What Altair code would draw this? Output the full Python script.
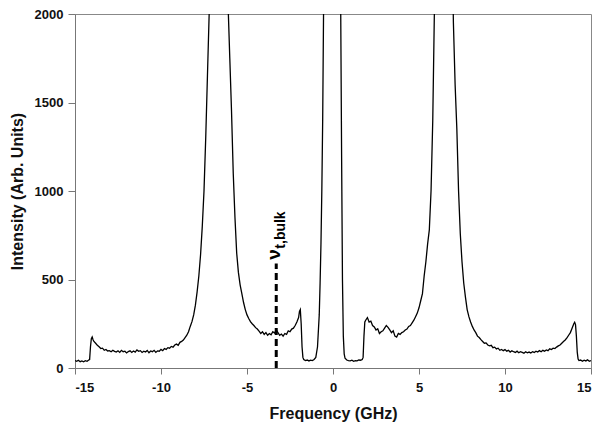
import altair as alt
import pandas as pd

freq = [
    -15.0, -14.9, -14.8, -14.7, -14.6, -14.5, -14.4, -14.3, -14.2, -14.15,
    -14.1, -14.05, -14.0, -13.95, -13.9, -13.8, -13.7, -13.6, -13.5, -13.4,
    -13.3, -13.2, -13.1, -13.0, -12.9, -12.8, -12.7, -12.6, -12.5, -12.4,
    -12.3, -12.2, -12.1, -12.0, -11.9, -11.8, -11.7, -11.6, -11.5, -11.4,
    -11.3, -11.2, -11.1, -11.0, -10.9, -10.8, -10.7, -10.6, -10.5, -10.4,
    -10.3, -10.2, -10.1, -10.0, -9.9, -9.8, -9.7, -9.6, -9.5, -9.4,
    -9.3, -9.2, -9.1, -9.0, -8.9, -8.8, -8.7, -8.6, -8.5, -8.4,
    -8.3, -8.2, -8.1, -8.0, -7.9, -7.8, -7.7, -7.6, -7.5, -7.4,
    -7.3, -7.2, -7.1, -6.9, -6.6, -6.3, -6.1, -6.0, -5.9, -5.8,
    -5.7, -5.6, -5.5, -5.4, -5.3, -5.2, -5.1, -5.0, -4.9, -4.8,
    -4.7, -4.6, -4.5, -4.4, -4.3, -4.2, -4.1, -4.0, -3.9, -3.8,
    -3.7, -3.6, -3.5, -3.4, -3.3, -3.2, -3.1, -3.0, -2.9, -2.8,
    -2.7, -2.6, -2.5, -2.4, -2.3, -2.2, -2.1, -2.0, -1.95, -1.9,
    -1.85, -1.8, -1.75, -1.7, -1.6, -1.5, -1.4, -1.3, -1.2, -1.1,
    -1.0, -0.9, -0.8, -0.75, -0.7, -0.65, -0.6, -0.55, -0.5, 0.0,
    0.4, 0.45, 0.5, 0.55, 0.6, 0.65, 0.7, 0.8, 0.9, 1.0,
    1.1, 1.2, 1.3, 1.4, 1.5, 1.6, 1.7, 1.75, 1.8, 1.85,
    1.9, 2.0, 2.1, 2.2, 2.3, 2.4, 2.5, 2.6, 2.7, 2.8,
    2.9, 3.0, 3.1, 3.2, 3.3, 3.4, 3.5, 3.6, 3.7, 3.8,
    3.9, 4.0, 4.1, 4.2, 4.3, 4.4, 4.5, 4.6, 4.7, 4.8,
    4.9, 5.0, 5.1, 5.2, 5.3, 5.4, 5.5, 5.6, 5.7, 5.8,
    5.9, 6.0, 6.4, 6.9, 7.0, 7.1, 7.2, 7.3, 7.4, 7.5,
    7.6, 7.7, 7.8, 7.9, 8.0, 8.1, 8.2, 8.3, 8.4, 8.5,
    8.6, 8.7, 8.8, 8.9, 9.0, 9.1, 9.2, 9.3, 9.4, 9.5,
    9.6, 9.7, 9.8, 9.9, 10.0, 10.1, 10.2, 10.3, 10.4, 10.5,
    10.6, 10.7, 10.8, 10.9, 11.0, 11.1, 11.2, 11.3, 11.4, 11.5,
    11.6, 11.7, 11.8, 11.9, 12.0, 12.1, 12.2, 12.3, 12.4, 12.5,
    12.6, 12.7, 12.8, 12.9, 13.0, 13.1, 13.2, 13.3, 13.4, 13.5,
    13.6, 13.7, 13.8, 13.9, 14.0, 14.05, 14.1, 14.15, 14.2, 14.25,
    14.3, 14.4, 14.5, 14.6, 14.7, 14.8, 14.9, 15.0,
]

intensity = [
    42, 38, 44, 36, 40, 35, 41, 38, 45, 48,
    120, 165, 175, 160, 150, 140, 128, 120, 110, 112,
    100, 105, 96, 98, 92, 100, 94, 90, 97, 88,
    100, 92, 95, 85, 93, 97, 88, 96, 90, 102,
    94, 98, 88, 95, 90, 99, 86, 96, 92, 100,
    88, 97, 95, 105, 98, 110, 105, 115, 112, 122,
    118, 130, 135, 128, 145, 150, 158, 172, 185, 205,
    235, 262, 300, 355, 430, 520, 640, 800, 1000, 1300,
    1650, 2000, 2500, 4000, 6000, 4000, 2050, 1750, 1450, 1100,
    850, 650, 540, 470, 420, 370, 330, 300, 280, 262,
    250, 240, 228, 220, 208, 195, 205, 190, 200, 185,
    195, 188, 205, 198, 215, 200, 185, 192, 180, 195,
    190, 210, 205, 220, 225, 240, 260, 285, 320, 330,
    250, 120, 60, 48, 42, 45, 40, 44, 42, 48,
    60, 120, 300, 480, 700, 1000, 1400, 2000, 2800, 10000,
    2500, 2000, 1200, 500, 180, 80, 55, 45, 42, 40,
    44, 38, 42, 40, 45, 44, 48, 60, 180, 260,
    270, 285, 260, 265, 240, 232, 215, 222, 195, 205,
    210, 225, 240, 230, 215, 200, 210, 180, 175, 195,
    190, 200, 205, 215, 220, 235, 240, 255, 270, 290,
    310, 340, 380, 420, 520, 600, 700, 780, 1000, 1400,
    2050, 3000, 6000, 2600, 1950, 1600, 1350, 1000, 760, 600,
    480, 400, 330, 290, 260, 235, 215, 200, 180, 172,
    160, 150, 140, 142, 130, 125, 128, 115, 118, 108,
    112, 100, 105, 98, 104, 95, 100, 90, 97, 92,
    88, 95, 86, 92, 88, 84, 92, 86, 90, 85,
    92, 88, 95, 90, 98, 92, 100, 95, 102, 98,
    108, 104, 112, 110, 118, 125, 130, 140, 150, 158,
    170, 185, 200, 225, 250, 258, 245, 180, 90, 50,
    42, 45, 38, 44, 40, 46, 38, 42,
]

x_ticks = [-15, -10, -5, 0, 5, 10, 15]
y_ticks = [0, 500, 1000, 1500, 2000]

marker_x = [-3.3]
marker_y0 = [0]
marker_y1 = [590]
label_y = [612]

df = pd.DataFrame({"f": freq, "I": intensity})
mk = pd.DataFrame({"x": marker_x, "y0": marker_y0, "y1": marker_y1, "ly": label_y})

FONT = "Liberation Sans"

x_enc = alt.X(
    "f:Q",
    scale=alt.Scale(domain=[-15, 15], nice=False, zero=False),
    axis=alt.Axis(values=x_ticks, title="Frequency (GHz)", grid=False,
                  labelExpr="'' + datum.value",
                  tickSize=6, labelPadding=7, titlePadding=11,
                  labelFontSize=13, labelFontWeight="bold", labelColor="#111",
                  titleFontSize=16, titleFontWeight="bold", titleColor="#111",
                  domainColor="#777", tickColor="#777", labelFont=FONT, titleFont=FONT),
)
y_enc = alt.Y(
    "I:Q",
    scale=alt.Scale(domain=[0, 2000], nice=False),
    axis=alt.Axis(values=y_ticks, title="Intensity (Arb. Units)", grid=False,
                  labelExpr="'' + datum.value",
                  tickSize=7, labelPadding=5, titlePadding=9,
                  labelFontSize=13, labelFontWeight="bold", labelColor="#111",
                  titleFontSize=16, titleFontWeight="bold", titleColor="#111",
                  domainColor="#777", tickColor="#777", labelFont=FONT, titleFont=FONT),
)

line = alt.Chart(df).mark_line(color="black", strokeWidth=1.3, clip=True).encode(
    x=x_enc, y=y_enc
)

rule = alt.Chart(mk).mark_rule(color="black", strokeWidth=3, strokeDash=[7, 4]).encode(
    x="x:Q", y="y0:Q", y2="y1:Q"
)

nu = alt.Chart(mk).mark_text(
    text="ν", angle=270, align="left", baseline="alphabetic",
    fontSize=19, fontWeight="bold", font=FONT, color="black", dy=4
).encode(x="x:Q", y="ly:Q")

sub = alt.Chart(mk).mark_text(
    text="t,bulk", angle=270, align="left", baseline="alphabetic",
    fontSize=14, fontWeight="bold", font=FONT, color="black", dx=11, dy=9
).encode(x="x:Q", y="ly:Q")

chart = alt.layer(line, rule, nu, sub).properties(
    width=516, height=354,
    autosize=alt.AutoSizeParams(type="none"),
    padding={"left": 67, "top": 6, "right": 1, "bottom": 54},
).configure_view(stroke="#888", strokeWidth=1)

chart.save("out.html", embed_options={"renderer": "svg", "actions": False})
